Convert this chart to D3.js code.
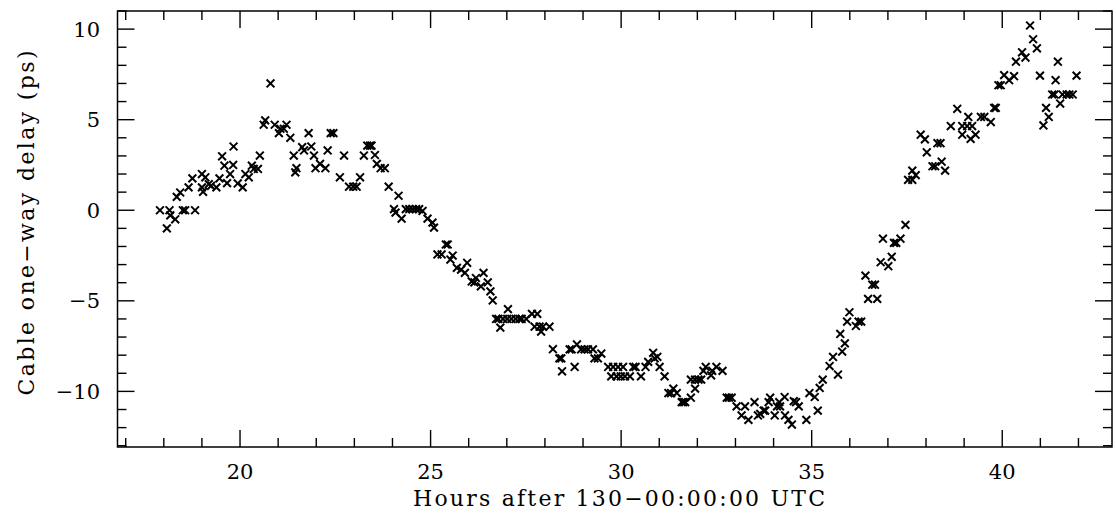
<!DOCTYPE html>
<html><head><meta charset="utf-8">
<script src="https://cdn.jsdelivr.net/npm/d3@7"></script>
<style>body{margin:0;background:#fff}svg{display:block}</style>
</head><body>
<script>
// Hours after 130-00:00:00 UTC
const hours = [
17.9,18.08,18.15,18.17,18.3,18.34,18.43,18.5,18.56,18.65,18.75,18.82,19.0,19.0,19.03,19.09,19.18,19.24,19.38,19.46,
19.53,19.59,19.66,19.74,19.82,19.83,19.94,20.07,20.14,20.23,20.31,20.36,20.47,20.52,20.62,20.66,20.8,20.91,21.02,21.06,
21.15,21.22,21.32,21.41,21.45,21.48,21.63,21.68,21.8,21.87,21.94,21.98,22.1,22.24,22.3,22.38,22.45,22.62,22.73,22.86,
22.97,23.06,23.15,23.25,23.34,23.41,23.45,23.54,23.59,23.69,23.8,23.9,
24.04,24.08,24.16,24.24,24.35,24.44,24.53,24.62,24.7,24.79,24.92,25.05,25.09,25.18,25.29,25.4,25.45,25.52,25.58,25.69,
25.8,25.9,25.96,26.08,26.15,26.19,26.32,26.39,26.5,26.57,26.63,26.72,26.78,26.83,26.9,27.01,27.03,27.12,27.23,27.33,
27.39,27.51,27.66,27.73,27.8,27.86,27.9,27.95,28.12,28.21,
28.38,28.43,28.45,28.65,28.7,28.78,28.84,28.95,29.04,29.13,29.26,29.3,29.39,29.48,29.66,29.74,29.79,29.88,29.92,29.99,
30.05,30.1,30.23,30.32,30.38,30.52,30.64,30.71,30.84,30.88,30.95,31.01,31.14,31.24,31.31,31.37,31.46,31.59,31.63,31.68,
31.83,31.83,31.94,31.94,32.03,32.1,32.16,32.22,32.36,32.39,32.5,32.66,32.77,32.83,32.9,33.03,33.16,33.25,33.34,33.5,
33.59,33.65,33.74,33.78,33.87,33.91,34.03,34.09,34.15,34.17,34.29,34.3,34.39,34.48,34.53,34.59,34.66,34.86,34.94,35.08,
35.16,35.21,35.29,
35.47,35.56,35.69,35.75,35.8,35.87,35.93,35.99,36.16,36.23,36.3,36.41,36.48,36.59,36.66,36.72,36.81,36.87,37.01,37.1,
37.16,37.22,37.33,37.46,37.53,37.64,37.64,37.73,37.86,37.97,38.02,38.17,38.24,38.3,38.38,38.41,38.5,38.65,38.82,
38.95,39.08,39.11,39.21,38.95,39.17,39.3,39.44,39.53,39.7,39.79,39.83,39.9,39.96,40.05,40.18,40.31,40.36,40.52,40.61,
40.73,40.81,40.91,40.99,41.08,41.15,41.22,41.31,41.37,41.4,41.46,41.52,41.58,41.69,41.76,41.85,41.95
];
// Cable one-way delay (ps)
const delay = [
0,-1.0,0,-0.28,-0.5,0.74,0.98,0,0,1.26,1.76,0,2.0,1.26,1.02,1.82,1.44,1.35,1.26,1.76,
2.98,2.46,1.5,2.0,2.5,3.52,1.48,1.26,2.0,1.82,2.46,2.28,2.28,3.02,4.72,4.96,7.0,4.72,4.26,4.5,
4.5,4.72,4.0,3.02,2.09,2.32,3.48,3.3,4.26,3.52,3.02,2.32,2.56,2.32,3.3,4.26,4.26,1.82,3.02,1.3,
1.3,1.3,1.82,3.02,3.57,3.57,3.57,3.05,2.56,2.32,2.32,1.3,
0.06,-0.13,0.8,-0.46,0.06,0.06,0.06,0.06,0.06,-0.04,-0.46,-0.68,-0.96,-2.44,-2.44,-1.89,-1.89,-2.72,-2.5,-3.18,
-3.28,-3.46,-2.9,-3.93,-3.98,-3.74,-4.2,-3.46,-3.98,-4.48,-4.98,-6.0,-6.0,-6.48,-6.0,-6.0,-5.46,-6.0,-6.0,-6.0,
-6.0,-6.0,-5.72,-6.43,-5.72,-6.43,-6.7,-6.43,-6.43,-7.67,
-8.18,-8.18,-8.89,-7.68,-7.68,-8.65,-7.41,-7.68,-7.68,-7.68,-7.68,-8.18,-8.18,-7.91,-8.65,-9.17,-8.65,-9.17,-8.65,-9.17,
-8.65,-9.17,-9.17,-8.65,-8.65,-9.17,-8.65,-8.37,-7.87,-8.18,-8.09,-8.65,-9.17,-10.09,-10.09,-9.85,-10.09,-10.59,-10.59,-10.59,
-10.35,-9.35,-9.85,-9.35,-9.35,-9.35,-8.87,-8.65,-9.11,-8.87,-8.65,-8.87,-10.35,-10.35,-10.35,-10.83,-11.33,-10.83,-11.57,-10.59,
-11.33,-11.24,-11.06,-11.06,-10.59,-10.35,-11.33,-10.83,-10.59,-10.83,-10.31,-11.33,-11.57,-11.83,-10.54,-10.59,-10.83,-11.57,-10.09,-10.31,
-11.06,-9.81,-9.35,
-8.6,-8.1,-9.07,-6.83,-7.8,-7.35,-6.15,-5.63,-6.39,-6.15,-6.15,-3.61,-4.89,-4.11,-4.11,-4.89,-2.87,-1.57,-3.09,-2.57,
-1.8,-1.8,-1.57,-0.81,1.68,1.68,2.19,1.94,4.17,3.91,3.2,2.43,2.43,3.7,3.7,2.68,2.19,4.65,5.6,
4.65,4.65,5.15,4.65,4.17,3.94,4.17,5.15,5.15,4.87,5.65,5.65,6.9,6.9,7.46,7.18,7.4,8.2,8.72,8.43,
10.2,9.44,8.94,7.43,4.68,5.65,5.15,6.39,6.39,7.18,8.2,5.89,6.39,6.39,6.39,6.39,7.43
];
const xMajorTicks = [20, 25, 30, 35, 40];
const yMajorTicks = [-10, -5, 0, 5, 10];
const xTitle = "Hours after 130\u221200:00:00 UTC";
const yTitle = "Cable one\u2212way delay (ps)";

const W = 1116, H = 514;
const L = 117.5, R = 1112, T = 11, B = 447;
const x = d3.scaleLinear().domain([16.785, 42.88]).range([L, R]);
const y = d3.scaleLinear().domain([-13.07, 11.0]).range([B, T]);

const svg = d3.select("body").append("svg").attr("width", W).attr("height", H);
const font = "'DejaVu Serif', serif";

// frame
svg.append("rect").attr("x", L).attr("y", T).attr("width", R - L).attr("height", B - T)
  .attr("fill", "none").attr("stroke", "#000").attr("stroke-width", 1.5);

const fmt = d => d < 0 ? "\u2212" + Math.abs(d) : String(d);
const xMinor = d3.range(17, 43, 1).filter(v => !xMajorTicks.includes(v));
const yMinor = d3.range(-13, 12, 1).filter(v => !yMajorTicks.includes(v));
const major = 17, minor = 9;

function axisLines(g, ticks, len) {
  g.selectAll(null).data(ticks.x).join("line")
    .attr("x1", d => x(d)).attr("x2", d => x(d)).attr("y1", B).attr("y2", B - len);
  g.selectAll(null).data(ticks.x).join("line")
    .attr("x1", d => x(d)).attr("x2", d => x(d)).attr("y1", T).attr("y2", T + len);
  g.selectAll(null).data(ticks.y).join("line")
    .attr("y1", d => y(d)).attr("y2", d => y(d)).attr("x1", L).attr("x2", L + len);
  g.selectAll(null).data(ticks.y).join("line")
    .attr("y1", d => y(d)).attr("y2", d => y(d)).attr("x1", R).attr("x2", R - len);
}
const tg = svg.append("g").attr("stroke", "#000").attr("stroke-width", 1.4);
axisLines(tg.append("g"), {x: xMajorTicks, y: yMajorTicks}, major);
axisLines(tg.append("g"), {x: xMinor, y: yMinor}, minor);

// tick labels
svg.append("g").selectAll("text").data(xMajorTicks).join("text")
  .attr("x", d => x(d)).attr("y", 479).attr("text-anchor", "middle")
  .attr("font-family", font).attr("font-size", 21).text(fmt);
svg.append("g").selectAll("text").data(yMajorTicks).join("text")
  .attr("x", 100).attr("y", d => y(d) + 7.5).attr("text-anchor", "end")
  .attr("font-family", font).attr("font-size", 21).text(fmt);

// titles
svg.append("text").attr("x", 619).attr("y", 506).attr("text-anchor", "middle")
  .attr("font-family", font).attr("font-size", 22)
  .attr("textLength", 412).attr("lengthAdjust", "spacing").text(xTitle);
svg.append("text").attr("transform", "translate(34,223) rotate(-90)").attr("text-anchor", "middle")
  .attr("font-family", font).attr("font-size", 22)
  .attr("textLength", 345).attr("lengthAdjust", "spacing").text(yTitle);

// data markers (x crosses)
const data = hours.map((h, i) => ({h, v: delay[i]}));
const s = 3.9;
svg.append("g").attr("stroke", "#000").attr("stroke-width", 2).attr("fill", "none")
  .selectAll("path").data(data).join("path")
  .attr("d", d => {
    const cx = x(d.h), cy = y(d.v);
    return `M${cx - s},${cy - s}L${cx + s},${cy + s}M${cx - s},${cy + s}L${cx + s},${cy - s}`;
  });
</script>
</body></html>
